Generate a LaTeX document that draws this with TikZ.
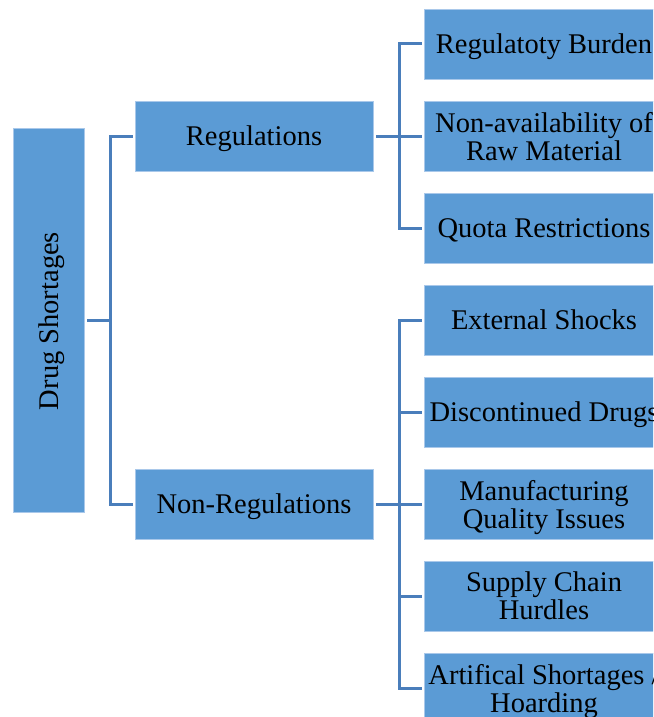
\documentclass[tikz,border=0pt]{standalone}
\usepackage{fontspec}
\setmainfont{Liberation Serif}
\definecolor{boxblue}{HTML}{5B9BD5}
\definecolor{lineblue}{HTML}{4A7EBB}
\definecolor{edgeblue}{HTML}{A9C8EA}
\begin{document}
\begin{tikzpicture}[x=1pt,y=-1pt,
  box/.style={fill=boxblue,draw=edgeblue,line width=0.8pt,inner sep=0pt,
    minimum width=238pt,minimum height=70pt,align=center,text depth=0pt,
    font=\fontsize{28.5}{28}\selectfont},
  conn/.style={draw=lineblue,line width=3pt}]
\useasboundingbox (0,0) rectangle (653,717);
\clip (0,0) rectangle (653,717);
\fill[white] (0,0) rectangle (653,717);
% root
\node[box,minimum width=71pt,minimum height=384pt] (root) at (48.5,320) {};
\node[rotate=90,text depth=0pt,font=\fontsize{28.5}{28}\selectfont] (roottext) at (48.5,321) {Drug Shortages};
% level 1
\node[box] (reg) at (254,136) {Regulations};
\node[box] (nonreg) at (254,504) {Non-Regulations};
% level 2
\node[box,minimum width=240pt] (r1) at (544,44) {Regulatoty Burden};
\node[box,minimum width=240pt] (r2) at (544,136) {Non-availability of\\Raw Material};
\node[box,minimum width=240pt] (r3) at (544,228) {Quota Restrictions};
\node[box,minimum width=240pt] (n1) at (544,320) {External Shocks};
\node[box,minimum width=240pt] (n2) at (544,412) {Discontinued Drugs};
\node[box,minimum width=240pt] (n3) at (544,504) {Manufacturing\\Quality Issues};
\node[box,minimum width=240pt] (n4) at (544,596) {Supply Chain\\Hurdles};
\node[box,minimum width=240pt] (n5) at (544,688) {Artifical Shortages /\\Hoarding};
% connectors
\coordinate (j0) at (110,320);
\draw[conn] ([xshift=3pt]root.east) -- (j0);
\draw[conn] ([xshift=-2pt]reg.west) -| (j0) |- ([xshift=-2pt]nonreg.west);
\coordinate (j1) at (399,136);
\draw[conn] ([xshift=3pt]reg.east) -- ([xshift=-2pt]r2.west);
\draw[conn] ([xshift=-2pt]r1.west) -| (j1) |- ([xshift=-2pt]r3.west);
\coordinate (j2) at (399,504);
\draw[conn] ([xshift=3pt]nonreg.east) -- ([xshift=-2pt]n3.west);
\draw[conn] ([xshift=-2pt]n1.west) -| (j2) |- ([xshift=-2pt]n5.west);
\draw[conn] (399,412) -- ([xshift=-2pt]n2.west);
\draw[conn] (399,596) -- ([xshift=-2pt]n4.west);
\end{tikzpicture}
\end{document}
